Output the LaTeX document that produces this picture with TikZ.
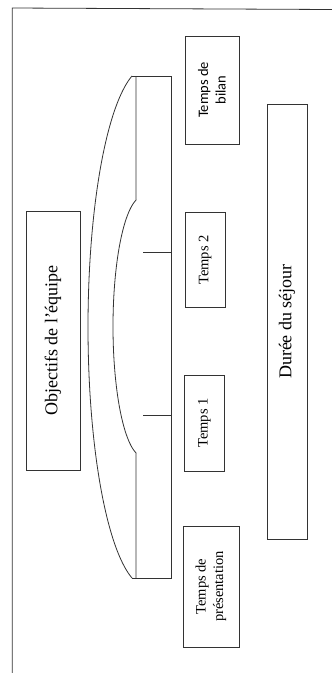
\documentclass[tikz,border=0pt]{standalone}
\usepackage{fontspec}
\setmainfont{Liberation Serif}
\newfontfamily\calib{Carlito}
\begin{document}
\begin{tikzpicture}[x=1pt,y=-1pt,
  ln/.style={draw=black!80,line width=0.8pt},
  boxn/.style={ln,rectangle,rotate=90,inner sep=0pt,align=center,font=\fontsize{14.5}{17.5}\selectfont},
  bigbox/.style={boxn,font=\fontsize{18}{21}\selectfont}]
\useasboundingbox (0,0) rectangle (332,673);
% frame
\draw[ln] (12.3,673) -- (12.3,8) -- (332,9.5);
% boxes
\node[boxn,font=\calib\fontsize{14.5}{17.5}\selectfont,minimum width=108pt,minimum height=54pt] (bilan) at (212,90) {Temps de\\bilan};
\node[boxn,minimum width=121pt,minimum height=56pt] (pres) at (211,586.5) {Temps de\\présentation};
\node[boxn,minimum width=96pt,minimum height=40.5pt] (t1) at (204.3,423) {Temps 1};
\node[boxn,minimum width=95.7pt,minimum height=40pt] (t2) at (205,260) {Temps 2};
\node[bigbox,minimum width=259pt,minimum height=54pt] (obj) at (53,340.5) {Objectifs de l'équipe};
\node[bigbox,minimum width=435pt,minimum height=40pt] (duree) at (287,321.5) {Durée du séjour};
% bracket shape
\draw[ln,line width=0.9pt] (132,76) -- (171,76) -- (171,578) -- (132,578);
\draw[ln] plot[domain=-74.9:74.9,samples=80,smooth] ({147.5-59.5*cos(\x)},{327+260*sin(\x)});
\draw[ln] (136,76) -- (136,198)
  -- plot[domain=-76.7:76.7,samples=60,smooth] ({143-30*cos(\x)},{326.5+130*sin(\x)})
  -- (136,578);
% ticks
\coordinate (k1) at (171,252.7);
\coordinate (k2) at (171,415.7);
\draw[ln] (143,252.7) -- (k1);
\draw[ln] (143,415.7) -- (k2);
\end{tikzpicture}
\end{document}
